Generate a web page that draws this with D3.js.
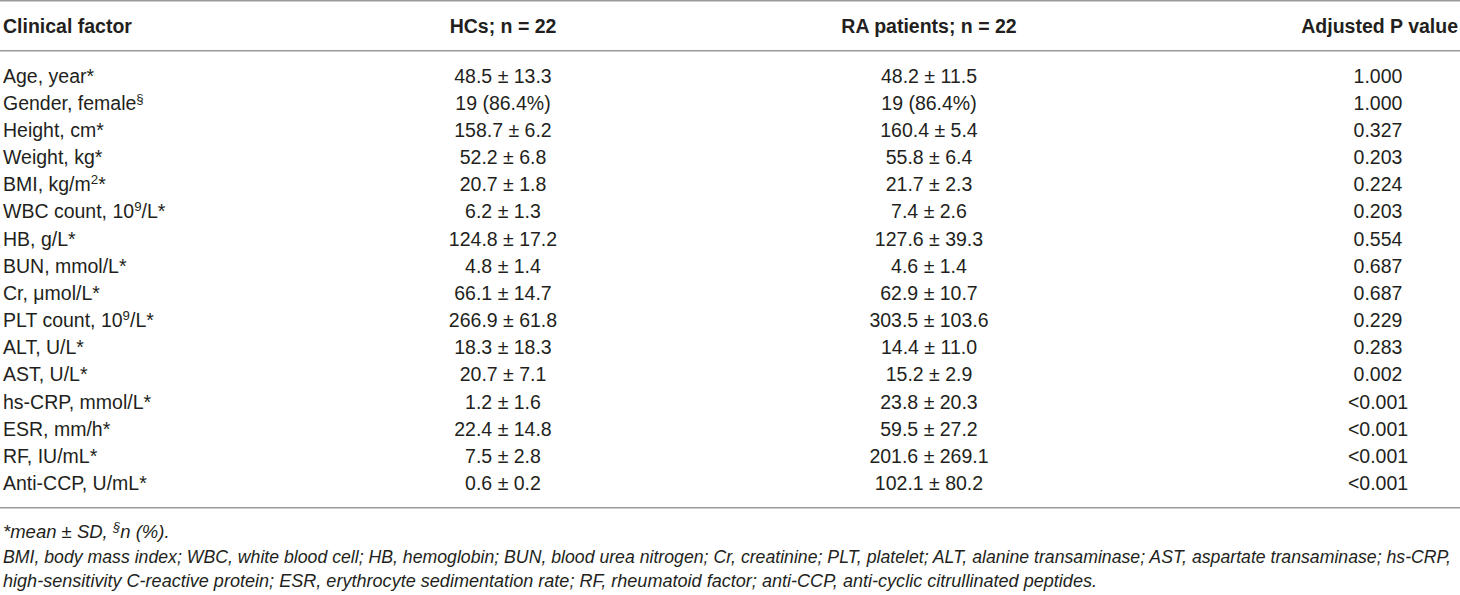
<!DOCTYPE html>
<html>
<head>
<meta charset="utf-8">
<script src="https://cdn.jsdelivr.net/npm/d3@7"></script>
<style>
  html, body { margin: 0; padding: 0; background: #fff; }
  svg { display: block; }
</style>
</head>
<body>
<svg id="tbl"></svg>
<script>
// table contents (^{..} marks a superscript)
var factors = ["Age, year*", "Gender, female^{§}", "Height, cm*", "Weight, kg*",
  "BMI, kg/m^{2}*", "WBC count, 10^{9}/L*", "HB, g/L*", "BUN, mmol/L*",
  "Cr, \u03bcmol/L*", "PLT count, 10^{9}/L*", "ALT, U/L*", "AST, U/L*",
  "hs-CRP, mmol/L*", "ESR, mm/h*", "RF, IU/mL*", "Anti-CCP, U/mL*"];
var hcs = ["48.5 ± 13.3", "19 (86.4%)", "158.7 ± 6.2", "52.2 ± 6.8", "20.7 ± 1.8",
  "6.2 ± 1.3", "124.8 ± 17.2", "4.8 ± 1.4", "66.1 ± 14.7", "266.9 ± 61.8",
  "18.3 ± 18.3", "20.7 ± 7.1", "1.2 ± 1.6", "22.4 ± 14.8", "7.5 ± 2.8", "0.6 ± 0.2"];
var ra = ["48.2 ± 11.5", "19 (86.4%)", "160.4 ± 5.4", "55.8 ± 6.4", "21.7 ± 2.3",
  "7.4 ± 2.6", "127.6 ± 39.3", "4.6 ± 1.4", "62.9 ± 10.7", "303.5 ± 103.6",
  "14.4 ± 11.0", "15.2 ± 2.9", "23.8 ± 20.3", "59.5 ± 27.2", "201.6 ± 269.1", "102.1 ± 80.2"];
var pvals = ["1.000", "1.000", "0.327", "0.203", "0.224", "0.203", "0.554", "0.687",
  "0.687", "0.229", "0.283", "0.002", "<0.001", "<0.001", "<0.001", "<0.001"];
var headers = ["Clinical factor", "HCs; n = 22", "RA patients; n = 22", "Adjusted P value"];
var notes = ["*mean ± SD, ^{§}n (%).",
  "BMI, body mass index; WBC, white blood cell; HB, hemoglobin; BUN, blood urea nitrogen; Cr, creatinine; PLT, platelet; ALT, alanine transaminase; AST, aspartate transaminase; hs-CRP,",
  "high-sensitivity C-reactive protein; ESR, erythrocyte sedimentation rate; RF, rheumatoid factor; anti-CCP, anti-cyclic citrullinated peptides."];

var W = 1460, H = 595;
var fs = 19.5, ink = "#231f20", rule = "#9a9a9a";

var svg = d3.select("#tbl").attr("width", W).attr("height", H)
  .style("font-family", "'Liberation Sans', Arial, Helvetica, sans-serif")
  .style("font-size", fs + "px")
  .attr("fill", ink);

// columns: left edge of first, centres of the others
var colX = [3, 503, 929, 1378];
var y = d3.scaleLinear().domain([0, factors.length - 1]).range([82.7, 490]);

// writes "a^{b}c" as text with raised tspans
function rich(sel, str) {
  var parts = str.split(/(\^\{[^}]*\})/), raised = false;
  parts.forEach(function(p) {
    if (!p) return;
    if (p.indexOf("^{") === 0) {
      sel.append("tspan").attr("dy", -7).style("font-size", (fs * 0.68) + "px")
        .text(p.slice(2, -1));
      raised = true;
    } else {
      var t = sel.append("tspan").text(p);
      if (raised) { t.attr("dy", 7); raised = false; }
    }
  });
}

// rules
[0.7, 50.7, 507.7].forEach(function(ry) {
  svg.append("line").attr("x1", 0).attr("x2", W).attr("y1", ry).attr("y2", ry)
    .attr("stroke", rule).attr("stroke-width", 1.5);
});

// header
svg.append("g").selectAll("text").data(headers).enter().append("text")
  .attr("x", function(d, i) { return i == 3 ? 1458 : colX[i]; })
  .attr("y", 33)
  .attr("text-anchor", function(d, i) { return i == 0 ? "start" : (i == 3 ? "end" : "middle"); })
  .style("font-weight", "bold")
  .text(function(d) { return d; });

// body rows
var rows = svg.append("g").selectAll("g").data(factors).enter().append("g")
  .attr("transform", function(d, i) { return "translate(0," + y(i) + ")"; });

rows.append("text").attr("x", colX[0]).each(function(d) { rich(d3.select(this), d); });
rows.append("text").attr("x", colX[1]).attr("text-anchor", "middle")
  .text(function(d, i) { return hcs[i]; });
rows.append("text").attr("x", colX[2]).attr("text-anchor", "middle")
  .text(function(d, i) { return ra[i]; });
rows.append("text").attr("x", colX[3]).attr("text-anchor", "middle")
  .text(function(d, i) { return pvals[i]; });

// footnotes; the two long lines are fitted to the widths they take in the reference
var noteY = [538, 563, 587];
var noteLen = [null, 1448, 1094];
notes.forEach(function(n, i) {
  var t = svg.append("text").attr("x", 3).attr("y", noteY[i])
    .style("font-style", "italic").style("font-size", i ? "17.5px" : "18.5px");
  if (noteLen[i]) {
    t.attr("textLength", noteLen[i]).attr("lengthAdjust", "spacingAndGlyphs").text(n);
  } else {
    rich(t, n);
  }
});
</script>
</body>
</html>
